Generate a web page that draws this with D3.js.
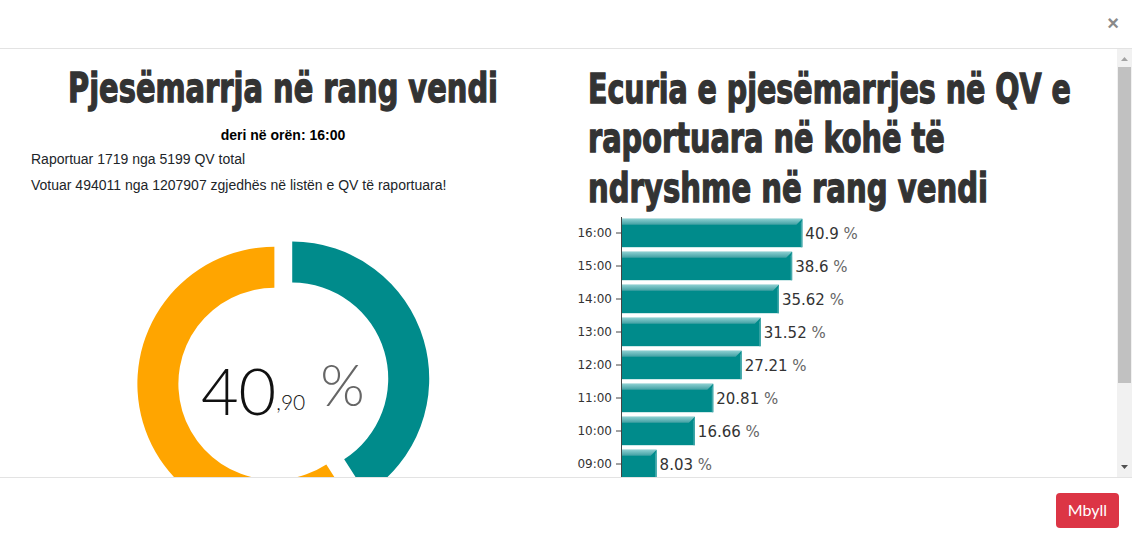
<!DOCTYPE html>
<html>
<head>
<meta charset="utf-8">
<script src="https://cdn.jsdelivr.net/npm/d3@7"></script>
<style>
body { margin: 0; background: #fff; overflow: hidden; }
svg { display: block; }
</style>
</head>
<body>
<script>
// data
var hours = ["16:00", "15:00", "14:00", "13:00", "12:00", "11:00", "10:00", "09:00"];
var turnout = [40.9, 38.6, 35.62, 31.52, 27.21, 20.81, 16.66, 8.03];

var donutNames = ["Votuar", "Pa votuar"];
var donutValues = [40.9, 59.1];
var donutColors = ["#008b8b", "#ffa500"];

var reportedQV = 1719, totalQV = 5199;
var voted = 494011, registered = 1207907;
var lastHour = "16:00";

var leftTitle = "Pjesëmarrja në rang vendi";
var rightTitle = ["Ecuria e pjesëmarrjes në QV e", "raportuara në kohë të", "ndryshme në rang vendi"];

var W = 1132, H = 540;
var titleFont = "'Liberation Sans Narrow', 'DejaVu Sans Condensed', 'Arial Narrow', sans-serif";

var svg = d3.select("body").append("svg")
    .attr("width", W)
    .attr("height", H);

var defs = svg.append("defs");
defs.append("clipPath").attr("id", "bodyClip")
  .append("rect").attr("x", 0).attr("y", 49).attr("width", 1117).attr("height", 428);

var grad = defs.append("linearGradient").attr("id", "bevel")
    .attr("x1", 0).attr("y1", 0).attr("x2", 0).attr("y2", 1);
grad.append("stop").attr("offset", "0%").attr("stop-color", "#8ccfd1");
grad.append("stop").attr("offset", "100%").attr("stop-color", "#3f9fa2");

// modal chrome
svg.append("text")
    .attr("x", 1113).attr("y", 30)
    .attr("text-anchor", "middle")
    .attr("font-family", "Liberation Sans, Arial, sans-serif")
    .attr("font-size", 20).attr("font-weight", "bold")
    .attr("fill", "#8a8a8a")
    .text("×");

svg.append("line").attr("x1", 0).attr("x2", W).attr("y1", 48.5).attr("y2", 48.5)
    .attr("stroke", "#e3e3e3");
svg.append("line").attr("x1", 0).attr("x2", W).attr("y1", 477.5).attr("y2", 477.5)
    .attr("stroke", "#e3e3e3");

var btn = svg.append("g").attr("transform", "translate(1056,493)");
btn.append("rect").attr("width", 63).attr("height", 35).attr("rx", 4).attr("fill", "#dc3545");
btn.append("text")
    .attr("x", 31.5).attr("y", 23)
    .attr("text-anchor", "middle")
    .attr("font-family", "Lato, 'Open Sans', sans-serif")
    .attr("font-size", 16)
    .attr("fill", "#fff")
    .text("Mbyll");

// scrollbar
var sb = svg.append("g");
sb.append("rect").attr("x", 1117).attr("y", 49).attr("width", 15).attr("height", 428).attr("fill", "#f1f1f1");
sb.append("rect").attr("x", 1118).attr("y", 67).attr("width", 13).attr("height", 316).attr("fill", "#c1c1c1");
sb.append("path").attr("d", "M1121,61 L1128,61 L1124.5,57 Z").attr("fill", "#a3a3a3");
sb.append("path").attr("d", "M1121,465 L1128,465 L1124.5,469 Z").attr("fill", "#505050");

var body = svg.append("g").attr("clip-path", "url(#bodyClip)");

// heavy condensed titles: size to the target width, then stretch up to the cap height
function heavyTitle(parent, str, x0, base, width) {
    var g = parent.append("g");
    var t = g.append("text")
        .attr("font-family", titleFont)
        .attr("font-weight", "bold")
        .attr("font-size", 40)
        .attr("fill", "#333").attr("stroke", "#333").attr("stroke-width", 1)
        .text(str);
    var natural = t.node().getComputedTextLength();
    var fs = 40 * width / natural;
    t.attr("font-size", fs);
    var sy = 41 / fs;
    g.attr("transform", "translate(" + x0 + "," + base + ") scale(1," + sy + ")");
    return g;
}

// ---- left column ----
heavyTitle(body, leftTitle, 68, 102, 430);

body.append("text")
    .attr("x", 283).attr("y", 140)
    .attr("text-anchor", "middle")
    .attr("font-family", "Liberation Sans, Arial, sans-serif")
    .attr("font-size", 14).attr("font-weight", "bold")
    .attr("fill", "#000")
    .text("deri në orën: " + lastHour);

var info = [
  "Raportuar " + reportedQV + " nga " + totalQV + " QV total",
  "Votuar " + voted + " nga " + registered + " zgjedhës në listën e QV të raportuara!"
];
body.selectAll(".info").data(info).enter().append("text")
    .attr("class", "info")
    .attr("x", 31)
    .attr("y", function(d, i) { return 164 + i * 26; })
    .attr("font-family", "Liberation Sans, Arial, sans-serif")
    .attr("font-size", 14)
    .attr("fill", "#212529")
    .text(function(d) { return d; });

// donut
var cx = 283.3, cy = 381.2, outerR = 137, innerR = 96, explode = 9.3;
var pie = d3.pie().sort(null).value(function(d) { return d; });
var arc = d3.arc().innerRadius(innerR).outerRadius(outerR);
var donut = body.append("g").attr("transform", "translate(" + cx + "," + cy + ")");

donut.selectAll("path")
    .data(pie(donutValues))
    .enter().append("path")
    .attr("d", arc)
    .attr("fill", function(d, i) { return donutColors[i]; })
    .attr("transform", function(d) {
        var a = (d.startAngle + d.endAngle) / 2;
        return "translate(" + (explode * Math.sin(a)) + "," + (-explode * Math.cos(a)) + ")";
    })
  .append("title")
    .text(function(d, i) { return donutNames[i] + ": " + d.data + " %"; });

var pct = donutValues[0].toFixed(2).split(".");
var bigFont = "Lato, 'Open Sans', 'Noto Sans', sans-serif";
donut.append("text")
    .attr("x", -7).attr("y", 34)
    .attr("text-anchor", "end")
    .attr("font-family", bigFont).attr("font-weight", 300)
    .attr("font-size", 65)
    .attr("fill", "#111")
    .text(pct[0]);
donut.append("text")
    .attr("x", -7).attr("y", 29)
    .attr("font-family", bigFont).attr("font-weight", 300)
    .attr("font-size", 21)
    .attr("fill", "#111")
    .text("," + pct[1]);
donut.append("text")
    .attr("x", 37).attr("y", 25)
    .attr("font-family", bigFont).attr("font-weight", 300)
    .attr("font-size", 57)
    .attr("fill", "#666")
    .text("%");

// ---- right column ----
var rtLen = [483, 357, 400];
rightTitle.forEach(function(line, i) {
    heavyTitle(body, line, 588, 102.7 + i * 49.5, rtLen[i]);
});

var x = d3.scaleLinear().domain([0, 50]).range([621, 621 + 221.7]);
var y = d3.scaleBand().domain(hours).range([216.5, 480.5]).paddingInner(0.14).paddingOuter(0.07);

var rows = hours.map(function(h, i) { return { hour: h, value: turnout[i] }; });

var bars = body.append("g").selectAll("g.bar")
    .data(rows)
    .enter().append("g").attr("class", "bar");

bars.append("rect")
    .attr("x", x(0))
    .attr("y", function(d) { return y(d.hour); })
    .attr("width", function(d) { return x(d.value) - x(0); })
    .attr("height", y.bandwidth())
    .attr("fill", "#008b8b");

// top bevel
bars.append("path")
    .attr("d", function(d) {
        var x0 = x(0), x1 = x(d.value), y0 = y(d.hour), b = 6;
        return "M" + x0 + "," + y0 + "L" + x1 + "," + y0 + "L" + (x1 - b) + "," + (y0 + b) + "L" + x0 + "," + (y0 + b) + "Z";
    })
    .attr("fill", "url(#bevel)");

// right edge highlight
bars.append("path")
    .attr("d", function(d) {
        var x1 = x(d.value), y0 = y(d.hour), y1 = y0 + y.bandwidth(), b = 6;
        return "M" + x1 + "," + y0 + "L" + x1 + "," + y1 + "L" + (x1 - 1.5) + "," + y1 + "L" + (x1 - 1.5) + "," + (y0 + b - 1.5) + "Z";
    })
    .attr("fill", "#45a9ab");

var vals = bars.append("text")
    .attr("x", function(d) { return x(d.value) + 3; })
    .attr("y", function(d) { return y(d.hour) + y.bandwidth() / 2 + 5.5; })
    .attr("font-family", "'DejaVu Sans', Verdana, sans-serif")
    .attr("font-size", 15)
    .attr("fill", "#333");
vals.append("tspan").text(function(d) { return d.value; });
vals.append("tspan").attr("fill", "#666").text(" %");

var axis = body.append("g")
    .attr("transform", "translate(" + x(0) + ",0)")
    .call(d3.axisLeft(y).tickSize(5).tickSizeOuter(0).tickPadding(4));
axis.select(".domain").attr("stroke", "#444");
axis.selectAll(".tick line").attr("stroke", "#444");
axis.selectAll(".tick text")
    .attr("font-family", "'DejaVu Sans', Verdana, sans-serif")
    .attr("font-size", 12)
    .attr("fill", "#333");
</script>
</body>
</html>
